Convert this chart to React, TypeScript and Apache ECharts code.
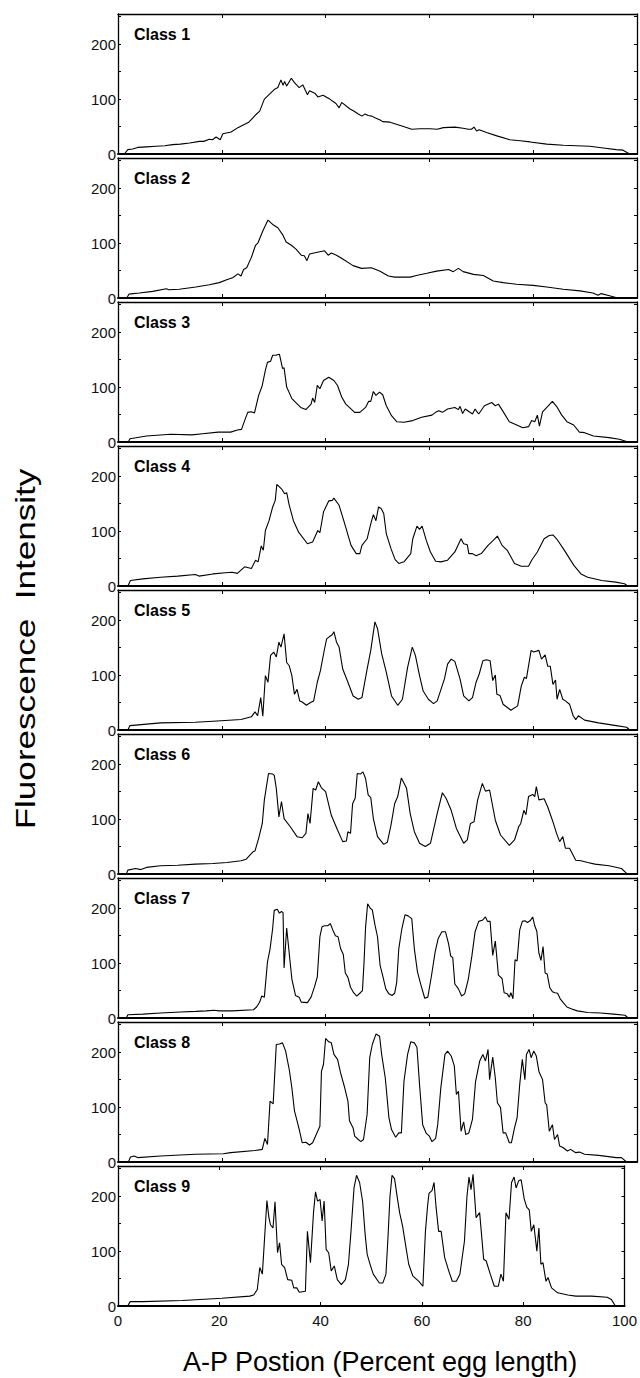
import React, { useEffect, useRef } from 'react';
import * as echarts from 'echarts';

type Pt = [number, number];

const classNames = ['Class 1', 'Class 2', 'Class 3', 'Class 4', 'Class 5', 'Class 6', 'Class 7', 'Class 8', 'Class 9'];
const yLabelValues = [0, 100, 200];
const xTitle = 'A-P Postion (Percent egg length)';
const yTitle = 'Fluorescence  Intensity';

const class1: Pt[] = [[0,0],[1.2,0],[1.9,8],[2.8,9],[3.8,12],[5.5,13],[7.3,14],[9,15],[10.5,17],[12,18],[13.8,20],[15.7,23],[16.5,23],[17.6,27],[18.2,26],[18.9,31],[19.7,26],[20.2,37],[21.8,40],[23.1,48],[24.4,54],[25.2,58],[26,66],[26.6,72],[27.3,78],[28.2,100],[29.2,109],[30.2,118],[30.8,121],[31.4,135],[31.8,125],[32.1,132],[32.5,124],[33.4,138],[34,130],[34.5,125],[34.9,121],[35.6,126],[36.5,108],[36.9,115],[38,110],[38.5,104],[39.5,107],[40.8,100],[42,92],[42.6,84],[43.1,94],[44.7,82],[45.5,78],[46.3,73],[47,69],[47.6,73],[48.2,70],[48.9,69],[49.5,66],[50.5,62],[51,59],[52.4,58],[54.4,52],[56.6,45],[58.2,46],[60.1,46],[61.5,45],[62.7,48],[64.9,49],[66.5,47],[67.5,45],[68.1,45],[68.6,49],[69.1,42],[69.6,44],[71,39],[73,33],[75.5,26],[77.5,24],[79.4,22],[82.6,18],[85.8,16],[88.3,15],[90.9,14],[93.5,11],[96,8],[97.3,7],[98.6,0],[100,0]];

const class2: Pt[] = [[0,0],[1.7,0],[2.1,7],[4.1,9],[6.7,12],[9.3,17],[9.8,15],[11.8,16],[15,20],[17.6,24],[19.5,28],[21.2,34],[22.1,37],[23.1,44],[23.7,40],[24.2,52],[24.8,55],[25.7,74],[26.5,96],[27,101],[27.9,122],[28.9,142],[29.8,134],[30.8,128],[31.8,114],[32.4,102],[33.4,96],[34.3,89],[35.3,78],[35.9,77],[36.4,68],[36.9,80],[38.2,83],[39.8,86],[40.5,78],[41.1,82],[42.1,78],[43.3,71],[45.3,59],[46.9,54],[48.8,55],[50.4,49],[52.1,40],[53.3,38],[56.3,38],[57.5,41],[59.5,45],[61.4,49],[63.7,52],[64.6,48],[65.6,54],[66.5,48],[68.5,43],[70.4,41],[72.3,31],[74.2,28],[76.8,25],[80,23],[82.6,20],[85.8,16],[89,13],[91.5,9],[92.5,5],[93.1,8],[94.7,4],[96.3,0],[100,0]];

const class3: Pt[] = [[0,0],[2,0],[2.3,6],[5.5,11],[10.2,14],[14.2,13],[16.3,15],[19.3,18],[21.7,18],[23,22],[23.8,23],[24.4,39],[25,54],[25.7,55],[26.3,53],[27.1,85],[27.8,103],[28.4,131],[28.8,145],[29.4,147],[29.8,158],[30.4,158],[31.1,160],[31.7,134],[32,135],[32.5,100],[33.5,79],[35.2,63],[36.2,59],[37.2,69],[37.5,80],[37.9,72],[38.4,103],[38.9,97],[39.6,112],[40.6,118],[41.6,112],[42.3,103],[43.1,82],[43.9,69],[45.6,54],[46.6,54],[47.7,63],[48.3,74],[48.7,74],[49.2,92],[49.7,85],[50.4,91],[51,86],[51.7,66],[52.7,48],[53.7,37],[55.1,36],[56.8,39],[58.5,45],[60.5,49],[61.2,54],[61.8,57],[62.5,54],[63.5,60],[64.9,63],[65.6,59],[65.9,65],[66.4,52],[66.9,60],[68.3,51],[68.8,60],[69.5,51],[70.6,66],[72,72],[72.7,66],[73.3,69],[74.3,54],[75.4,37],[76.4,33],[78,26],[79.1,28],[79.7,39],[80.3,37],[80.8,49],[81.2,29],[81.8,55],[82.8,65],[83.7,74],[84.5,65],[85.5,49],[86.5,37],[87.8,31],[88.9,18],[89.9,17],[91.6,11],[94.6,8],[96.6,5],[98.3,0],[100,0]];

const class4: Pt[] = [[0,0],[1.9,0],[2.4,10],[4.8,13],[8.2,16],[11.5,18],[14.9,21],[15.6,18],[18.3,22],[20.7,24],[22,25],[23,23],[24.4,35],[25.7,32],[26.5,47],[27,44],[27.6,73],[28,65],[28.4,101],[29.1,119],[29.8,144],[30.3,156],[30.6,185],[31.5,177],[32.1,168],[32.5,170],[33,147],[33.8,119],[34.8,98],[36.5,77],[37.5,80],[38.5,101],[38.9,97],[39.6,135],[40.6,155],[41.3,156],[41.6,160],[42.6,147],[43.6,116],[44.9,74],[45.9,59],[46.6,59],[47,74],[48,86],[48.7,113],[49.2,130],[49.7,119],[50.2,144],[50.7,141],[51.2,132],[51.7,95],[52.6,68],[53.4,48],[54.1,41],[55.1,44],[56.4,59],[56.8,86],[57.6,109],[58.1,103],[58.6,109],[59.4,83],[60.2,62],[61.2,45],[62.2,44],[63.5,47],[64.9,62],[66.1,86],[66.6,77],[67.3,75],[67.6,59],[68.3,59],[69,55],[70,59],[71.3,74],[72.3,83],[73.1,91],[74,74],[75,65],[76.4,41],[77.7,36],[79.1,36],[79.7,47],[80.8,62],[82.1,86],[83.1,92],[83.8,93],[84.5,86],[85.8,68],[87.8,38],[89.2,22],[90.5,16],[93.2,10],[95.9,7],[97.6,4],[98.2,0],[100,0]];

const class5: Pt[] = [[0,0],[1.9,0],[2.3,8],[8.2,13],[14.9,14],[18.3,16],[23.7,19],[25.7,24],[26.4,33],[26.9,26],[27.5,59],[27.9,25],[28.4,99],[28.9,87],[29.4,136],[30,142],[30.5,133],[31,160],[31.4,151],[32,175],[32.5,123],[33,117],[33.5,99],[34,65],[34.5,74],[35,53],[35.5,51],[36.3,45],[37.1,50],[37.7,53],[38.4,87],[39,108],[39.8,148],[40.2,166],[41.3,174],[41.6,179],[42.1,160],[42.6,151],[43.3,111],[44.3,87],[45.3,62],[46.3,56],[47,59],[48,111],[48.7,145],[49.5,197],[50,185],[50.8,139],[51.7,105],[52.7,62],[53.9,45],[54.8,56],[55.8,114],[56.7,151],[57.3,136],[58.1,99],[58.8,71],[59.8,56],[60.8,48],[61.5,53],[62.9,93],[63.5,120],[64.2,129],[64.9,125],[65.9,93],[66.6,62],[67.6,53],[68.3,59],[69,87],[69.6,102],[70.3,126],[71,128],[71.7,126],[72.2,90],[72.7,100],[73,65],[73.6,63],[74.2,47],[75.7,36],[77,44],[77.7,80],[78.3,96],[78.7,94],[79.6,145],[80.1,142],[81.1,145],[81.6,129],[82.3,137],[82.8,116],[83.3,116],[83.8,83],[84.3,91],[84.6,56],[85.1,74],[85.7,56],[86.2,53],[87,47],[87.7,26],[88.2,19],[88.7,26],[89.9,18],[92.6,13],[96,8],[98,5],[98.6,0],[100,0]];

const class6: Pt[] = [[0,0],[1.6,0],[1.9,7],[3.4,10],[4.4,8],[5.5,12],[8.2,15],[11.5,16],[14.9,18],[18.3,19],[21,21],[23.7,24],[24.7,27],[26.1,41],[26.4,42],[27.1,65],[27.8,92],[28.2,135],[29,183],[29.8,182],[30.1,180],[30.5,156],[31,104],[31.5,132],[32,101],[33.2,86],[34.5,68],[35.5,66],[36.2,74],[36.6,110],[37,92],[37.6,156],[38.1,153],[38.6,168],[39.2,157],[40,150],[41.1,107],[42.3,80],[43.3,59],[44,60],[44.3,77],[44.8,74],[45.2,128],[45.7,138],[46.1,183],[46.7,182],[47.2,186],[47.7,174],[48.2,144],[48.7,139],[49.2,101],[50,68],[51.2,54],[51.9,58],[52.6,89],[53.3,128],[53.9,141],[54.6,175],[55.6,156],[56.3,110],[57.1,77],[58.1,56],[59.2,50],[60.2,56],[61.5,110],[62.5,148],[63.2,138],[64.2,116],[65.2,83],[66.6,56],[67.3,62],[67.9,92],[68.6,95],[69.3,135],[70.2,165],[70.8,151],[71.6,153],[72.7,98],[73.7,71],[75.4,52],[76.4,62],[77.2,86],[77.6,92],[78.2,116],[78.6,108],[79.1,141],[79.9,145],[80.3,141],[80.6,159],[81.1,135],[82.1,137],[82.8,122],[83.7,98],[84.5,74],[85.1,59],[85.7,68],[86.2,47],[87,47],[88.2,25],[89.2,24],[90.5,21],[91.9,18],[94.6,15],[97,10],[98,1],[100,0]];

const class7: Pt[] = [[0,0],[1.6,0],[1.9,6],[4.8,7],[8.2,9],[12,11],[15,12],[17,13],[18.5,14],[19.5,13],[22,13],[26.1,15],[26.7,20],[27.3,29],[27.7,40],[28.2,38],[28.8,102],[29.3,126],[29.8,163],[30.1,196],[30.7,198],[31.1,191],[31.5,194],[31.8,192],[32,91],[32.5,164],[33,117],[33.5,71],[34.2,41],[34.9,38],[35.3,29],[36.5,28],[37.2,38],[37.9,58],[38.4,75],[38.9,148],[39.3,166],[39.8,168],[40.4,168],[40.9,172],[41.4,160],[41.9,150],[42.4,148],[42.9,126],[43.4,116],[43.8,82],[44.3,74],[44.8,56],[45.4,46],[46,40],[46.7,46],[47.1,50],[47.4,100],[47.7,165],[48.1,208],[48.6,200],[49,197],[49.5,170],[50,148],[50.5,96],[51,77],[51.6,53],[52.2,44],[52.8,41],[53.3,45],[53.7,65],[54.1,126],[54.7,163],[55.3,188],[55.9,186],[56.6,181],[57.1,126],[57.7,84],[58.4,59],[59.1,36],[59.7,38],[60.4,77],[61.1,120],[61.7,145],[62.4,157],[63.1,157],[63.7,135],[64.1,113],[64.5,110],[64.9,62],[65.6,53],[66.2,40],[66.8,44],[67.5,71],[68.2,114],[68.8,157],[69.5,176],[70.2,178],[70.8,184],[71.2,176],[71.7,176],[72.2,114],[72.7,140],[73.3,78],[74,72],[74.4,46],[75,44],[75.4,38],[75.7,46],[76.1,35],[76.5,106],[76.9,104],[77.4,160],[77.9,176],[78.4,177],[78.9,174],[79.4,177],[79.9,184],[80.3,168],[80.7,158],[81.1,118],[81.5,105],[81.9,130],[82.3,82],[82.7,80],[83.2,55],[83.7,48],[84.2,46],[84.7,45],[85.2,35],[85.8,28],[86.5,20],[87.3,17],[88.5,13],[90.5,10],[93,9],[95.5,7],[97.7,5],[98.3,0],[100,0]];

const class8: Pt[] = [[0,0],[2,0],[2.4,9],[3.1,11],[3.8,8],[8.2,11],[14.9,14],[20.3,15],[21.7,17],[26.4,21],[27.8,23],[28.3,43],[28.8,32],[29.3,111],[29.9,106],[30.5,214],[31.1,215],[31.7,217],[32.3,202],[33,168],[33.5,135],[34,93],[34.5,75],[35,56],[35.5,35],[36.2,36],[36.9,31],[37.5,35],[38.2,50],[38.9,65],[39.2,165],[39.6,178],[40,225],[40.6,219],[41.1,217],[41.6,196],[42.3,187],[42.9,162],[43.6,138],[44.3,111],[44.6,75],[45.3,62],[45.6,47],[46.3,41],[46.8,37],[47.3,41],[48,87],[48.5,190],[49,214],[49.7,233],[50.4,229],[50.8,196],[51.5,153],[52.2,81],[52.7,59],[53.5,45],[54.1,53],[54.6,53],[55.1,147],[55.8,196],[56.4,219],[57.1,217],[57.6,209],[58.1,141],[58.7,68],[59.4,52],[60,47],[60.5,37],[61.2,43],[61.6,68],[62.2,135],[63,196],[63.5,202],[64.2,193],[64.8,175],[65.2,123],[65.6,129],[66.1,56],[66.6,73],[67,50],[67.6,53],[68.3,78],[68.9,147],[69.7,184],[70.3,196],[70.8,184],[71.3,205],[71.6,150],[72.2,191],[72.7,153],[73.1,108],[73.7,99],[74.2,53],[74.7,53],[75.4,35],[75.8,35],[76.4,62],[76.9,81],[77.4,141],[77.9,187],[78.4,150],[78.7,196],[79.2,205],[79.6,190],[80.1,202],[80.6,193],[81.1,165],[81.8,150],[82.3,108],[82.6,104],[83.1,56],[83.7,68],[84.1,41],[84.7,50],[85.1,29],[85.8,26],[86.6,20],[87.2,23],[88.2,17],[88.9,18],[89.9,14],[92.6,12],[96,8],[97,8],[98,0],[100,0]];

const class9: Pt[] = [[0,0],[1.9,0],[2.4,8],[4.9,8],[12.7,10],[20.5,14],[26,18],[26.8,20],[27.5,30],[28,70],[28.5,58],[29.4,192],[29.8,161],[30.1,148],[30.6,142],[31,190],[31.5,97],[31.9,115],[32.3,76],[32.9,70],[33.5,48],[34.3,47],[34.7,33],[35.3,33],[35.8,25],[37,27],[37.4,136],[38,79],[38.6,170],[39,208],[39.4,191],[39.9,194],[40.3,155],[40.7,191],[41.1,103],[41.6,97],[42.1,64],[42.7,73],[43.3,48],[44.1,39],[44.9,48],[45.5,76],[46,136],[46.6,215],[47.1,238],[47.7,225],[48.3,190],[48.8,130],[49.2,94],[49.8,75],[50.4,58],[51.6,42],[52.3,42],[52.9,58],[53.3,124],[53.7,200],[54.1,238],[54.6,232],[55.1,200],[55.6,170],[56.2,145],[56.8,110],[57.4,76],[58.2,55],[59.4,45],[60.2,36],[60.7,136],[61.1,180],[61.4,205],[62,210],[62.4,225],[62.8,180],[63.3,136],[63.8,136],[64.5,88],[65.3,64],[66,45],[66.8,45],[67.5,58],[68.4,118],[68.9,200],[69.3,235],[69.7,212],[70.1,240],[70.7,161],[71.4,170],[72.2,85],[72.7,82],[73.5,58],[74.3,36],[75.1,36],[75.6,58],[76.1,45],[76.6,170],[77.2,158],[77.7,225],[78.2,235],[78.6,215],[79.1,228],[79.6,230],[80.2,195],[80.7,180],[81.2,175],[81.6,136],[82.1,148],[82.7,100],[83.1,142],[83.5,76],[83.9,79],[84.5,45],[84.9,52],[85.6,33],[86.8,24],[88.8,20],[90.4,18],[93.5,18],[96.6,16],[97.4,12],[98.2,0],[100,0]];

const profiles: Pt[][] = [class1, class2, class3, class4, class5, class6, class7, class8, class9];

export default function App() {
  const ref = useRef<HTMLDivElement>(null);

  useEffect(() => {
    if (!ref.current) return;
    const chart = echarts.init(ref.current, null, { renderer: 'svg' });
    const FONT = '"Liberation Sans", Arial, Helvetica, sans-serif';
    const LEFT = 118;
    const WIDTH = 519;
    const TOP0 = 14;
    const H = 140;
    const PITCH = 144;
    const n = profiles.length;

    const grid: any[] = [];
    const xAxis: any[] = [];
    const yAxis: any[] = [];
    const series: any[] = [];
    const graphic: any[] = [];

    profiles.forEach((data, i) => {
      const top = TOP0 + i * PITCH;
      const isLast = i === n - 1;
      grid.push({ left: LEFT, top, width: WIDTH, height: H, show: false });
      const xBase = {
        type: 'value', gridIndex: i, min: 0, max: 100, interval: 20,
        splitLine: { show: false },
        axisTick: { show: true, inside: true, length: 4, lineStyle: { color: '#000', width: 1 } },
      };
      xAxis.push({
        ...xBase, position: 'bottom',
        axisLine: { show: true, onZero: false, lineStyle: { color: '#000', width: 2 } },
        axisLabel: { show: isLast, margin: 7, color: '#111', fontSize: 15, fontFamily: FONT },
      });
      xAxis.push({
        ...xBase, position: 'top',
        axisLine: { show: true, onZero: false, lineStyle: { color: '#000', width: 1.3 } },
        axisLabel: { show: false },
      });
      const yBase = {
        type: 'value', gridIndex: i, min: 0, max: 255, interval: 50,
        splitLine: { show: false },
        axisLine: { show: true, onZero: false, lineStyle: { color: '#000', width: 1.3 } },
        axisTick: { show: true, inside: true, length: 3, lineStyle: { color: '#000', width: 1 } },
      };
      yAxis.push({
        ...yBase, position: 'left',
        axisLabel: {
          show: true, margin: 2, color: '#111', fontSize: 15, fontFamily: FONT,
          formatter: (v: number) => (yLabelValues.includes(v) ? String(v) : ''),
        },
      });
      yAxis.push({ ...yBase, position: 'right', axisLabel: { show: false } });
      series.push({
        type: 'line', xAxisIndex: 2 * i, yAxisIndex: 2 * i, data,
        showSymbol: false, symbol: 'none', silent: true,
        lineStyle: { color: '#000', width: 1.1 },
      });
      graphic.push({
        type: 'text', x: 134, y: top + 20,
        style: {
          text: classNames[i], fill: '#000', fontSize: 16, fontWeight: 'bold', fontFamily: FONT,
          align: 'left', verticalAlign: 'middle',
        },
      });
    });

    graphic.push({
      type: 'text', x: 380, y: 1362,
      style: { text: xTitle, fill: '#000', fontSize: 27, fontFamily: FONT, align: 'center', verticalAlign: 'middle' },
    });
    graphic.push({
      type: 'text', x: 26, y: 649, rotation: Math.PI / 2, scaleX: 1.3,
      style: { text: yTitle, fill: '#000', fontSize: 27, fontFamily: FONT, align: 'center', verticalAlign: 'middle' },
    });

    chart.setOption({
      animation: false,
      backgroundColor: '#fff',
      grid, xAxis, yAxis, series, graphic,
    });
    return () => chart.dispose();
  }, []);

  return (
    <div
      ref={ref}
      style={{ position: 'absolute', left: 0, top: 0, width: 640, height: 1378, background: '#fff' }}
    />
  );
}
